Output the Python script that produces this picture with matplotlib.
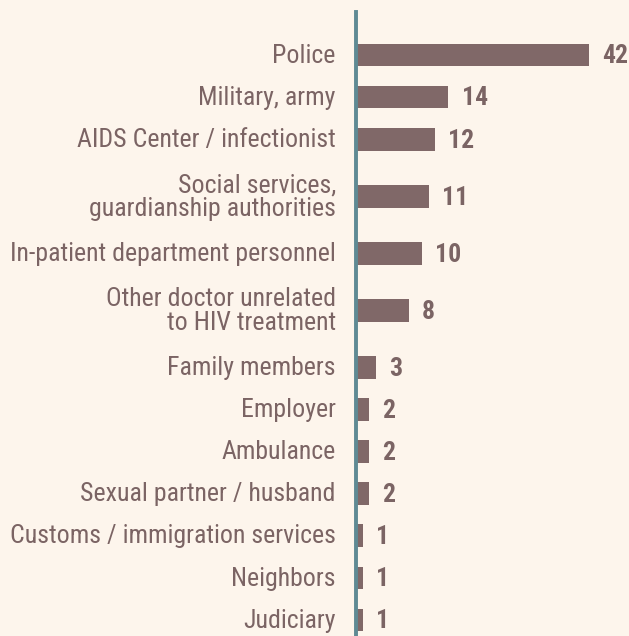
import matplotlib
matplotlib.use("Agg")
import matplotlib.pyplot as plt
import numpy as np

# data, top to bottom
categories = [
    "Police",
    "Military, army",
    "AIDS Center / infectionist",
    "Social services,\nguardianship authorities",
    "In-patient department personnel",
    "Other doctor unrelated\nto HIV treatment",
    "Family members",
    "Employer",
    "Ambulance",
    "Sexual partner / husband",
    "Customs / immigration services",
    "Neighbors",
    "Judiciary",
]
counts = [42, 14, 12, 11, 10, 8, 3, 2, 2, 2, 1, 1, 1]

BG = "#fdf5ec"
BAR = "#806868"
TXT = "#7b6464"
AXIS = "#5f8a94"

plt.rcParams["font.family"] = ["Roboto Condensed", "DejaVu Sans"]

W, H = 629, 636
fig = plt.figure(figsize=(W / 100, H / 100), dpi=100, facecolor=BG)

# axes in pixel units
left, top = 356, 12
ax = fig.add_axes([left / W, 0, (W - left) / W, (H - top) / H])
ax.set_facecolor(BG)

# the long Police bar is shortened in the original, so squeeze values above 14
knee, squeeze = 14.0, 0.76
def fwd(x):
    x = np.asarray(x, dtype=float)
    return np.where(x <= knee, x, knee + (x - knee) * squeeze)
def inv(u):
    u = np.asarray(u, dtype=float)
    return np.where(u <= knee, u, knee + (u - knee) / squeeze)
ax.set_xscale("function", functions=(fwd, inv))

# row positions: two-line labels get extra room
extra = 0.355
ypos = []
y = 0.0
for i, c in enumerate(categories):
    if i > 0:
        y += 1 + extra * categories[i - 1].count("\n") + extra * c.count("\n")
    ypos.append(y)

pitch = 42.1  # px per row unit
ax.barh(ypos, counts, height=0.54, color=BAR, left=0)

px_per_unit = 6.6
ax.set_xlim(0, float(inv((W - left) / px_per_unit)))
top_off = (55 - top) / pitch
ax.set_ylim((H - top) / pitch - top_off, -top_off)

for yy, c, v in zip(ypos, categories, counts):
    ax.annotate(c, (0, yy), xytext=(-14.5, -0.5), textcoords="offset points",
                ha="right", va="center", fontsize=18.6, color=TXT,
                linespacing=0.98, annotation_clip=False)
    ax.annotate(str(v), (v, yy), xytext=(9.5, -1), textcoords="offset points",
                ha="left", va="center", fontsize=18.5, fontweight="bold",
                color=TXT)

for s in ["top", "right", "bottom"]:
    ax.spines[s].set_visible(False)
ax.spines["left"].set_color(AXIS)
ax.spines["left"].set_linewidth(2.8)
ax.set_xticks([])
ax.set_xticks([], minor=True)
ax.set_yticks([])

fig.savefig("out.png", dpi=100, facecolor=BG)
